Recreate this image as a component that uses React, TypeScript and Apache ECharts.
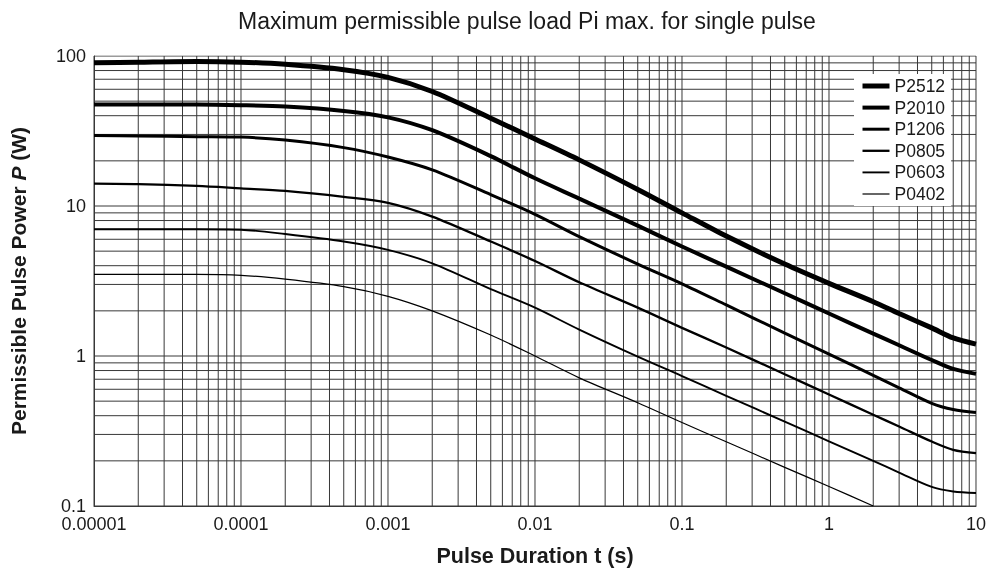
import React, { useEffect, useRef } from "react";
import * as echarts from "echarts";

const TIMES = [1e-5, 2e-5, 5e-5, 1e-4, 2e-4, 5e-4, 1e-3, 2e-3, 5e-3, 1e-2, 2e-2, 5e-2, 0.1, 0.2, 0.5, 1, 2, 3, 5, 7, 10];
const P2512 = [90, 91, 92, 91, 88, 81, 72, 58, 38.5, 28, 20.3, 12.9, 9.0, 6.3, 4.1, 3.05, 2.3, 1.92, 1.54, 1.32, 1.2];
const P2010 = [47.5, 47.5, 47.5, 47, 46, 43, 39, 32, 21.5, 15.3, 11.2, 7.4, 5.37, 3.94, 2.62, 1.92, 1.41, 1.18, 0.94, 0.82, 0.76];
const P1206 = [29.5, 29.3, 29, 28.8, 27.5, 24.5, 21.2, 17.4, 11.9, 8.8, 6.25, 4.1, 3.03, 2.19, 1.42, 1.03, 0.743, 0.614, 0.484, 0.44, 0.42];
const P0805 = [14.1, 14, 13.6, 13.1, 12.6, 11.5, 10.5, 8.5, 5.8, 4.3, 3.1, 2.1, 1.54, 1.14, 0.755, 0.554, 0.406, 0.339, 0.269, 0.237, 0.225];
const P0603 = [7, 7, 7, 6.95, 6.5, 5.8, 5.1, 4.15, 2.79, 2.1, 1.5, 0.99, 0.735, 0.543, 0.365, 0.27, 0.2, 0.167, 0.134, 0.125, 0.122];
const P0402 = [3.5, 3.5, 3.5, 3.45, 3.25, 2.9, 2.5, 2.0, 1.38, 1.0, 0.715, 0.488, 0.36, 0.268, 0.181, 0.135, 0.1];

const SERIES_NAMES = ["P2512", "P2010", "P1206", "P0805", "P0603", "P0402"];
const SERIES_VALUES = [P2512, P2010, P1206, P0805, P0603, P0402];
const LINE_WIDTHS = [5, 4, 3, 2.3, 1.9, 1.2];

const X_TICK_LABELS = ["0.00001", "0.0001", "0.001", "0.01", "0.1", "1", "10"]; // 1e-5 .. 10
const Y_TICK_LABELS = ["0.1", "1", "10", "100"]; // 0.1 .. 100

const X_DECADES = [-5, -4, -3, -2, -1, 0, 1];
const Y_DECADES = [-1, 0, 1, 2];
const MULTS = [1, 2, 3, 4, 5, 6, 7, 8, 9];

const FONT = '"Liberation Sans", Arial, Helvetica, sans-serif';
const TEXT = "#1a1a1a";
const GRID = "#383838";

export default function App() {
  const ref = useRef<HTMLDivElement>(null);
  useEffect(() => {
    if (!ref.current) return;
    const chart = echarts.init(ref.current, null, { renderer: "svg" });

    const gridStyle = { color: GRID, width: 1 };
    const gridSeries: any[] = [];
    X_DECADES.forEach((d, i) => {
      MULTS.forEach((m) => {
        if (i === X_DECADES.length - 1 && m > 1) return;
        const v = m * Math.pow(10, d);
        gridSeries.push({
          name: "gx" + v,
          type: "line",
          data: [[v, 0.1], [v, 100]],
          symbol: "none",
          silent: true,
          lineStyle: gridStyle,
          z: 1,
        });
      });
    });
    Y_DECADES.forEach((d, i) => {
      MULTS.forEach((m) => {
        if (i === Y_DECADES.length - 1 && m > 1) return;
        const v = m * Math.pow(10, d);
        gridSeries.push({
          name: "gy" + v,
          type: "line",
          data: [[1e-5, v], [10, v]],
          symbol: "none",
          silent: true,
          lineStyle: gridStyle,
          z: 1,
        });
      });
    });

    const lineSeries = SERIES_NAMES.map((name, i) => ({
      name,
      type: "line",
      data: SERIES_VALUES[i].map((v, k) => [TIMES[k], v]),
      symbol: "none",
      showSymbol: false,
      smooth: 0.3,
      lineStyle: { color: "#000", width: LINE_WIDTHS[i] },
      itemStyle: { color: "#000" },
      z: 5,
    }));

    chart.setOption({
      animation: false,
      title: {
        text: "Maximum permissible pulse load Pi max. for single pulse",
        left: 522,
        top: 4,
        textAlign: "center",
        textStyle: { fontFamily: FONT, fontSize: 23, fontWeight: "normal", color: TEXT },
      },
      grid: { left: 93, right: 12, top: 56, bottom: 67 },
      legend: {
        orient: "vertical",
        left: 854,
        top: 74,
        padding: [3, 6, 3, 6],
        itemWidth: 27,
        itemHeight: 14,
        itemGap: 3.6,
        backgroundColor: "#fff",
        data: SERIES_NAMES.map((n, i) => ({ name: n, lineStyle: { width: LINE_WIDTHS[i], color: "#000" } })),
        itemStyle: { opacity: 0 },
        lineStyle: { width: "inherit" },
        textStyle: { fontFamily: FONT, fontSize: 17.5, color: TEXT },
        z: 10,
      },
      xAxis: {
        type: "log",
        logBase: 10,
        min: 1e-5,
        max: 10,
        name: "Pulse Duration t (s)",
        nameLocation: "middle",
        nameGap: 39,
        nameTextStyle: { fontFamily: FONT, fontSize: 21.5, fontWeight: "bold", color: TEXT },
        axisLine: { show: true, lineStyle: { color: GRID, width: 1 } },
        axisTick: { show: false },
        splitLine: { show: false },
        axisLabel: {
          fontFamily: FONT,
          fontSize: 18,
          color: TEXT,
          margin: 9,
          formatter: (v: number) => X_TICK_LABELS[Math.round(Math.log10(v)) + 5] ?? "",
        },
      },
      yAxis: {
        type: "log",
        logBase: 10,
        min: 0.1,
        max: 100,
        name: "{b|Permissible Pulse Power }{i|P}{b| (W)}",
        nameLocation: "middle",
        nameGap: 65,
        nameRotate: 90,
        nameTextStyle: {
          fontFamily: FONT,
          fontSize: 21,
          fontWeight: "bold",
          color: TEXT,
          rich: {
            b: { fontFamily: FONT, fontSize: 21, fontWeight: "bold", color: TEXT },
            i: { fontFamily: FONT, fontSize: 21, fontWeight: "bold", fontStyle: "italic", color: TEXT },
          },
        },
        axisLine: { show: true, lineStyle: { color: GRID, width: 1 } },
        axisTick: { show: false },
        splitLine: { show: false },
        axisLabel: {
          fontFamily: FONT,
          fontSize: 18,
          lineHeight: 16,
          color: TEXT,
          margin: 8,
          formatter: (v: number) => Y_TICK_LABELS[Math.round(Math.log10(v)) + 1] ?? "",
        },
      },
      series: [...gridSeries, ...lineSeries],
    });
    return () => chart.dispose();
  }, []);
  return <div ref={ref} style={{ position: "fixed", left: 0, top: 0, width: 989, height: 573 }} />;
}
